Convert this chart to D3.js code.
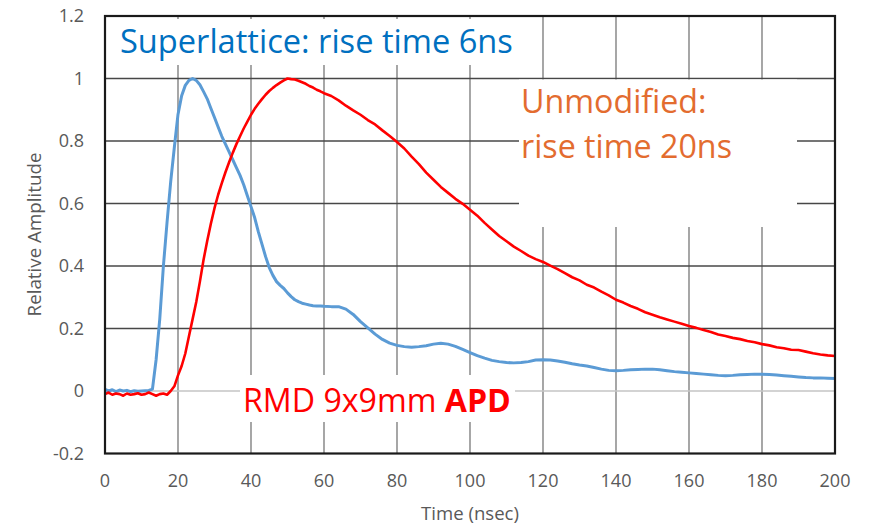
<!DOCTYPE html>
<html>
<head>
<meta charset="utf-8">
<script src="https://cdn.jsdelivr.net/npm/d3@7"></script>
<style>
  html, body { margin: 0; padding: 0; background: #fff; }
  svg { display: block; }
</style>
</head>
<body>
<svg id="chart" width="874" height="524"></svg>
<script>
// Time axis (ns): 1 ns steps through the rise, 2 ns steps on the tails
const timeNs = [
  0,1,2,3,4,5,6,7,8,9,10,11,12,13,14,15,16,17,18,19,
  20,21,22,23,24,25,26,27,28,29,30,31,32,33,34,35,36,37,38,39,
  40,41,42,43,44,45,46,47,48,49,50,51,52,53,54,55,56,57,58,59,60,
  62,64,66,68,70,72,74,76,78,80,82,84,86,88,90,92,94,96,98,100,
  102,104,106,108,110,112,114,116,118,120,122,124,126,128,130,132,134,136,138,140,
  142,144,146,148,150,152,154,156,158,160,162,164,166,168,170,172,174,176,178,180,
  182,184,186,188,190,192,194,196,198,200
];

// Superlattice APD pulse, normalised amplitude
const superlattice = [
  0.005,0.000,0.004,-0.002,0.003,0.000,0.002,-0.002,0.001,-0.001,0.000,0.001,0.002,0.006,0.100,0.230,0.400,0.540,0.670,0.780,
  0.885,0.945,0.978,0.994,1.000,0.994,0.980,0.958,0.935,0.905,0.875,0.845,0.815,0.790,0.765,0.740,0.715,0.690,0.660,0.625,
  0.590,0.555,0.510,0.470,0.430,0.395,0.370,0.350,0.338,0.328,0.314,0.302,0.292,0.286,0.281,0.278,0.275,0.273,0.272,0.272,0.271,
  0.270,0.270,0.262,0.245,0.222,0.202,0.182,0.165,0.153,0.146,0.142,0.140,0.142,0.145,0.150,0.153,0.150,0.143,0.133,0.123,
  0.113,0.105,0.098,0.094,0.091,0.090,0.091,0.094,0.099,0.100,0.099,0.096,0.092,0.087,0.083,0.080,0.075,0.070,0.066,0.065,
  0.066,0.068,0.069,0.070,0.070,0.068,0.065,0.062,0.060,0.058,0.056,0.054,0.052,0.050,0.049,0.050,0.052,0.053,0.054,0.054,
  0.053,0.051,0.049,0.047,0.045,0.043,0.042,0.042,0.041,0.040
];

// Unmodified APD pulse, normalised amplitude
const unmodified = [
  -0.010,-0.005,-0.012,-0.008,-0.010,-0.015,-0.008,-0.012,-0.010,-0.007,-0.012,-0.010,-0.005,-0.010,-0.015,-0.010,-0.008,-0.012,0.000,0.015,
  0.050,0.080,0.120,0.175,0.230,0.285,0.350,0.420,0.480,0.535,0.585,0.628,0.665,0.700,0.732,0.762,0.790,0.815,0.840,0.862,
  0.884,0.903,0.919,0.934,0.948,0.960,0.970,0.979,0.987,0.994,1.000,0.998,0.997,0.993,0.988,0.983,0.976,0.971,0.964,0.959,0.953,
  0.944,0.930,0.913,0.898,0.884,0.867,0.853,0.834,0.816,0.797,0.776,0.750,0.726,0.699,0.676,0.653,0.634,0.615,0.599,0.580,
  0.561,0.538,0.517,0.496,0.479,0.462,0.448,0.433,0.422,0.413,0.401,0.390,0.377,0.364,0.354,0.340,0.331,0.318,0.306,0.292,
  0.283,0.272,0.263,0.252,0.244,0.236,0.229,0.222,0.215,0.208,0.202,0.195,0.189,0.181,0.176,0.170,0.166,0.160,0.156,0.150,
  0.146,0.140,0.137,0.132,0.131,0.126,0.121,0.117,0.114,0.112
];

const xTicks = [0,20,40,60,80,100,120,140,160,180,200];
const yTicks = [-0.2,0,0.2,0.4,0.6,0.8,1.0,1.2];
const yTickLabels = ["-0.2","0","0.2","0.4","0.6","0.8","1","1.2"];

const svg = d3.select("#chart");
const plot = { left: 105, right: 835, top: 16, bottom: 453.5 };
const FONT = "'Open Sans', 'Noto Sans', sans-serif";

const x = d3.scaleLinear().domain([0, 200]).range([plot.left, plot.right]);
const y = d3.scaleLinear().domain([-0.2, 1.2]).range([plot.bottom, plot.top]);

// scale a text element's font size so that it spans the given width
function fitWidth(sel, width) {
  const w = sel.node().getComputedTextLength();
  const fs = parseFloat(sel.attr("font-size"));
  sel.attr("font-size", (fs * width / w).toFixed(2));
  return sel;
}

// gridlines
const grid = svg.append("g");
grid.selectAll("line.v")
  .data(xTicks.filter(t => t > 0 && t < 200))
  .join("line")
  .attr("x1", d => x(d)).attr("x2", d => x(d))
  .attr("y1", plot.top).attr("y2", plot.bottom)
  .attr("stroke", "#777").attr("stroke-width", 1.3);
grid.selectAll("line.h")
  .data(yTicks.filter(t => t > -0.2 && t < 1.2 && t !== 0))
  .join("line")
  .attr("x1", plot.left).attr("x2", plot.right)
  .attr("y1", d => y(d)).attr("y2", d => y(d))
  .attr("stroke", "#474747").attr("stroke-width", 1.3);
// horizontal axis line at zero
grid.append("line")
  .attr("x1", plot.left).attr("x2", plot.right)
  .attr("y1", y(0)).attr("y2", y(0))
  .attr("stroke", "#c4c4c4").attr("stroke-width", 1.6);

// white text boxes sitting over the grid
const boxes = svg.append("g").attr("fill", "#fff");
boxes.append("rect").attr("x", 107).attr("y", 19).attr("width", 412).attr("height", 46);
boxes.append("rect").attr("x", 519).attr("y", 79.5).attr("width", 278).attr("height", 147.5);
boxes.append("rect").attr("x", 240).attr("y", 375).attr("width", 275).attr("height", 47);

// traces
svg.append("clipPath").attr("id", "plotClip")
  .append("rect").attr("x", plot.left).attr("y", plot.top)
  .attr("width", plot.right - plot.left).attr("height", plot.bottom - plot.top);

const line = d3.line().x((d, i) => x(timeNs[i])).y(d => y(d)).curve(d3.curveLinear);
const traces = svg.append("g").attr("clip-path", "url(#plotClip)")
  .attr("fill", "none").attr("stroke-linejoin", "round").attr("stroke-linecap", "round");
traces.append("path").datum(superlattice).attr("d", line)
  .attr("stroke", "#5B9BD5").attr("stroke-width", 3);
traces.append("path").datum(unmodified).attr("d", line)
  .attr("stroke", "#FF0000").attr("stroke-width", 2.6);

// frame
svg.append("rect")
  .attr("x", plot.left).attr("y", plot.top)
  .attr("width", plot.right - plot.left).attr("height", plot.bottom - plot.top)
  .attr("fill", "none").attr("stroke", "#1a1a1a").attr("stroke-width", 2.2);

// tick labels
svg.append("g").selectAll("text")
  .data(yTicks)
  .join("text")
  .attr("x", 84).attr("y", d => y(d)).attr("dy", "0.36em")
  .attr("text-anchor", "end")
  .attr("font-family", FONT).attr("font-size", 18).attr("fill", "#595959")
  .text((d, i) => yTickLabels[i]);

svg.append("g").selectAll("text")
  .data(xTicks)
  .join("text")
  .attr("x", d => x(d)).attr("y", 487)
  .attr("text-anchor", "middle")
  .attr("font-family", FONT).attr("font-size", 18).attr("fill", "#595959")
  .text(d => d);

// axis titles
const xTitle = svg.append("text")
  .attr("x", 470).attr("y", 520).attr("text-anchor", "middle")
  .attr("font-family", FONT).attr("font-size", 18).attr("fill", "#595959")
  .text("Time (nsec)");
fitWidth(xTitle, 98);

const yTitle = svg.append("text")
  .attr("transform", "translate(41,234.5) rotate(-90)")
  .attr("text-anchor", "middle")
  .attr("font-family", FONT).attr("font-size", 18).attr("fill", "#595959")
  .text("Relative Amplitude");
fitWidth(yTitle, 164);

// annotations
const ann1 = svg.append("text")
  .attr("x", 120).attr("y", 53)
  .attr("font-family", FONT).attr("font-size", 30).attr("fill", "#0070C0")
  .text("Superlattice: rise time 6ns");
fitWidth(ann1, 393);

const ann2a = svg.append("text")
  .attr("x", 521).attr("y", 113)
  .attr("font-family", FONT).attr("font-size", 30).attr("fill", "#E36C2F")
  .text("Unmodified:");
const ann2b = svg.append("text")
  .attr("x", 521).attr("y", 158)
  .attr("font-family", FONT).attr("font-size", 30).attr("fill", "#E36C2F")
  .text("rise time 20ns");
fitWidth(ann2b, 211);
ann2a.attr("font-size", ann2b.attr("font-size"));

const ann3 = svg.append("text")
  .attr("x", 243).attr("y", 412)
  .attr("font-family", FONT).attr("font-size", 30).attr("fill", "#FF0000");
ann3.append("tspan").text("RMD 9x9mm ");
ann3.append("tspan").attr("font-weight", "bold").text("APD");
fitWidth(ann3, 268);
</script>
</body>
</html>
